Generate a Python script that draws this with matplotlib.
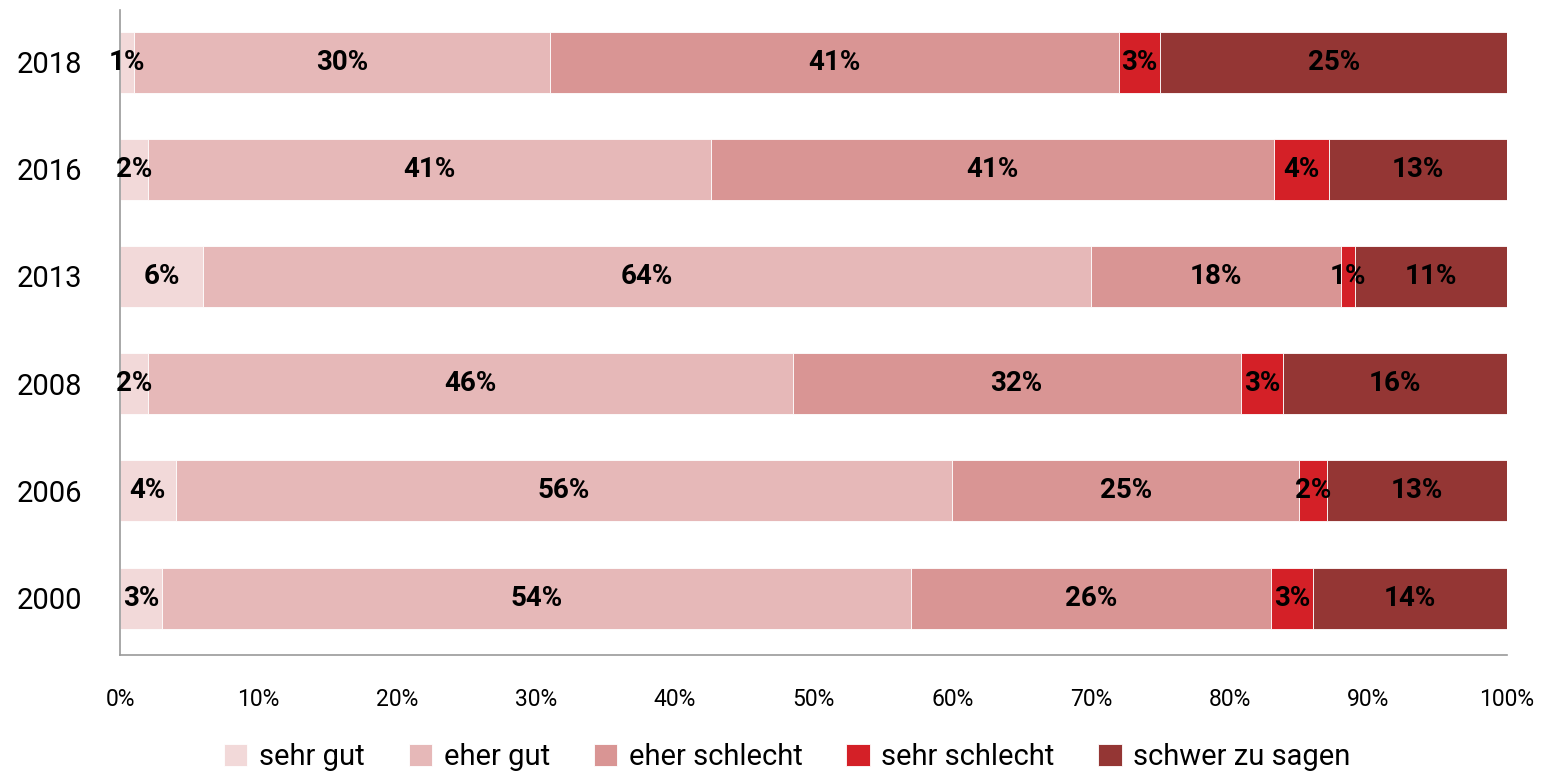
import matplotlib.pyplot as plt
import numpy as np

jahre = ["2000", "2006", "2008", "2013", "2016", "2018"]
kategorien = ["sehr gut", "eher gut", "eher schlecht", "sehr schlecht", "schwer zu sagen"]
farben = ["#f2d9d9", "#e6b8b8", "#d99594", "#d42027", "#943634"]

# Werte in Prozent (wie angezeigt), Reihenfolge wie jahre
sehr_gut = [3, 4, 2, 6, 2, 1]
eher_gut = [54, 56, 46, 64, 41, 30]
eher_schlecht = [26, 25, 32, 18, 41, 41]
sehr_schlecht = [3, 2, 3, 1, 4, 3]
schwer_zu_sagen = [14, 13, 16, 11, 13, 25]

plt.rcParams["font.family"] = ["Roboto", "DejaVu Sans"]

werte = np.array([sehr_gut, eher_gut, eher_schlecht, sehr_schlecht, schwer_zu_sagen], dtype=float)
anteile = werte / werte.sum(axis=0) * 100

fig = plt.figure(figsize=(15.41, 7.76), dpi=100)
ax = fig.add_axes([0.0779, 0.156, 0.9001, 0.831])

y = np.arange(len(jahre))
links = np.zeros(len(jahre))
for i, kat in enumerate(kategorien):
    ax.barh(y, anteile[i], left=links, height=0.57, color=farben[i],
            edgecolor="white", linewidth=0.6, label=kat)
    for j in range(len(jahre)):
        ax.text(links[j] + anteile[i][j] / 2, y[j], f"{int(werte[i][j])}%",
                ha="center", va="center", fontsize=20, fontweight="bold", color="black")
    links += anteile[i]

ax.set_xlim(0, 100)
ax.set_ylim(-0.53, 5.485)
ax.set_yticks(y)
ax.set_yticklabels(jahre, fontsize=21)
ax.set_xticks(np.arange(0, 101, 10))
ax.set_xticklabels([f"{v}%" for v in range(0, 101, 10)], fontsize=16.5)
ax.tick_params(axis="both", length=0)
ax.tick_params(axis="x", pad=24)
ax.tick_params(axis="y", pad=27)
for s in ["top", "right"]:
    ax.spines[s].set_visible(False)
for s in ["left", "bottom"]:
    ax.spines[s].set_color("#9a9a9a")
    ax.spines[s].set_linewidth(1.2)

fig.legend(loc="center", bbox_to_anchor=(0.511, 0.024), ncol=5, frameon=False,
           fontsize=21, handlelength=0.8, handleheight=0.8, handletextpad=0.4,
           columnspacing=1.5)

fig.savefig("out.png", dpi=100)
